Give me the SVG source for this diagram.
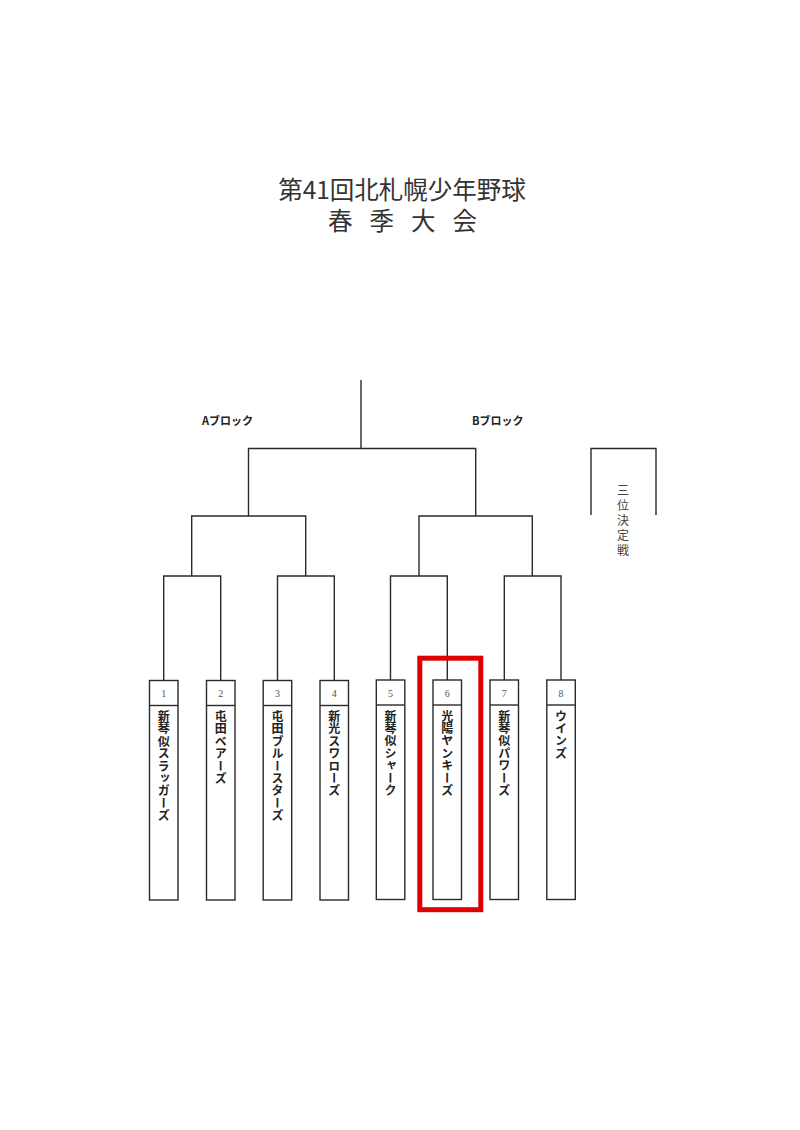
<svg xmlns="http://www.w3.org/2000/svg" width="800" height="1130" viewBox="0 0 800 1130">
<style>
.ln{fill:none;stroke:#2a2a2a;stroke-width:1.4}
.box{fill:#fff;stroke:#2a2a2a;stroke-width:1.4}
.num{font-family:"Liberation Serif",serif;font-size:10px;fill:#555;text-anchor:middle}
.team{font-family:"Noto Sans CJK JP",sans-serif;font-size:12px;font-weight:bold;fill:#222;writing-mode:vertical-rl;letter-spacing:0.4px}
.title{font-family:"Noto Sans CJK JP",sans-serif;font-size:24.5px;fill:#333}
.blk{font-family:"Noto Sans CJK JP",sans-serif;font-size:11px;font-weight:bold;fill:#222}
.third{font-family:"Noto Sans CJK JP",sans-serif;font-size:12px;fill:#444;writing-mode:vertical-rl;letter-spacing:3px}
</style>
<rect width="800" height="1130" fill="#fff"/>
<g id="title">
<text class="title" x="402" y="198.5" text-anchor="middle">第41回北札幌少年野球</text>
<text class="title" x="328 352 369.5 393.5 411 435 452.5" y="229.5" font-size="24">春 季 大 会</text>
</g>
<g id="labels">
<text class="blk" x="202" y="425">Aブロック</text>
<text class="blk" x="472" y="425">Bブロック</text>
</g>
<g id="connectors">
<path class="ln" d="M361 380V448.5M248.5 516V448.5H475.7V516"/>
<path class="ln" d="M191.7 576V516H305.7V576M419 576V516H532.3V576"/>
<path class="ln" d="M163.7 680.5V576H220.7V680.5M277.5 680.5V576H334.3V680.5"/>
<path class="ln" d="M390.5 680.5V576H447.3V680.5M504.3 680.5V576H561V680.5"/>
</g>
<g id="third-place">
<path class="ln" d="M591 515V448.5H656V515"/>
<text class="third" x="623" y="484">三位決定戦</text>
</g>
<g id="team1"><rect class="box" x="149.5" y="680.5" width="28.5" height="219.5"/><line class="ln" x1="149.5" y1="705.5" x2="178" y2="705.5"/><text class="num" x="163.7" y="697">1</text><text class="team" x="163.7" y="710.5">新琴似スラッガーズ</text></g>
<g id="team2"><rect class="box" x="206.5" y="680.5" width="28.5" height="219.5"/><line class="ln" x1="206.5" y1="705.5" x2="235" y2="705.5"/><text class="num" x="220.7" y="697">2</text><text class="team" x="220.7" y="710.5">屯田ベアーズ</text></g>
<g id="team3"><rect class="box" x="263.2" y="680.5" width="28.5" height="219.5"/><line class="ln" x1="263.2" y1="705.5" x2="291.7" y2="705.5"/><text class="num" x="277.5" y="697">3</text><text class="team" x="277.5" y="710.5">屯田ブルースターズ</text></g>
<g id="team4"><rect class="box" x="320" y="680.5" width="28.5" height="219.5"/><line class="ln" x1="320" y1="705.5" x2="348.5" y2="705.5"/><text class="num" x="334.3" y="697">4</text><text class="team" x="334.3" y="710.5">新光スワローズ</text></g>
<g id="team5"><rect class="box" x="376.3" y="680" width="28.5" height="219.5"/><line class="ln" x1="376.3" y1="705" x2="404.8" y2="705"/><text class="num" x="390.5" y="696.5">5</text><text class="team" x="390.5" y="710">新琴似シャーク</text></g>
<g id="team6"><rect class="box" x="433" y="680" width="28.5" height="219.5"/><line class="ln" x1="433" y1="705" x2="461.5" y2="705"/><text class="num" x="447.3" y="696.5">6</text><text class="team" x="447.3" y="710">光陽ヤンキーズ</text></g>
<g id="team7"><rect class="box" x="490" y="680" width="28.5" height="219.5"/><line class="ln" x1="490" y1="705" x2="518.5" y2="705"/><text class="num" x="504.3" y="696.5">7</text><text class="team" x="504.3" y="710">新琴似パワーズ</text></g>
<g id="team8"><rect class="box" x="546.8" y="680" width="28.5" height="219.5"/><line class="ln" x1="546.8" y1="705" x2="575.3" y2="705"/><text class="num" x="561" y="696.5">8</text><text class="team" x="561" y="710">ウインズ</text></g>
<g id="highlight"><rect x="419.8" y="658.2" width="61" height="251.5" fill="none" stroke="#e00000" stroke-width="5"/></g>
</svg>
